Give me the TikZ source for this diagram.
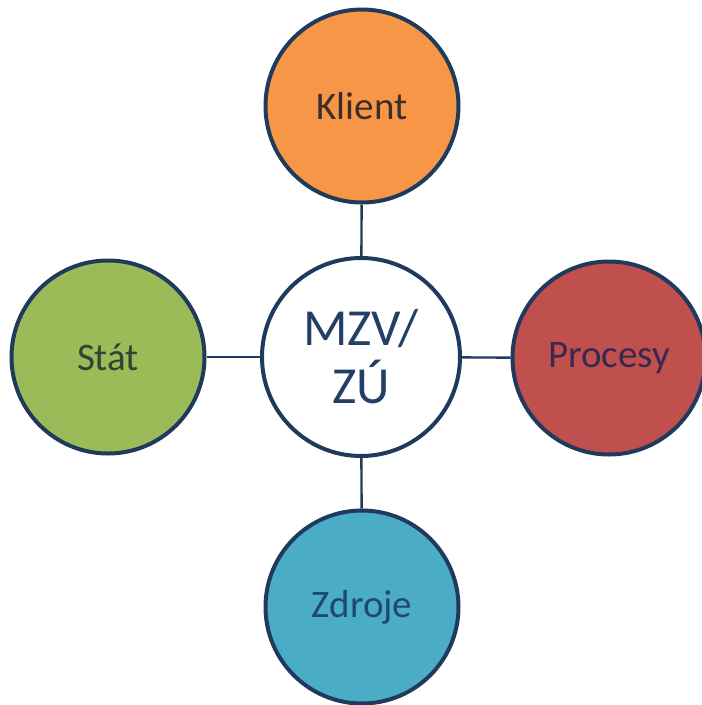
\documentclass[tikz,border=0pt]{standalone}
\usepackage{fontspec}
\setmainfont{Carlito}
\definecolor{edge}{HTML}{203A5E}
\definecolor{orangef}{HTML}{F79646}
\definecolor{greenf}{HTML}{9BBB59}
\definecolor{redf}{HTML}{C0504D}
\definecolor{bluef}{HTML}{4BACC6}
\definecolor{txtO}{HTML}{3B2E2A}
\definecolor{txtG}{HTML}{2D4436}
\definecolor{txtR}{HTML}{3A2850}
\definecolor{txtB}{HTML}{1E4A6E}
\definecolor{txtC}{HTML}{243F66}
\tikzset{
  bubble/.style={circle, draw=edge, line width=4pt, minimum size=193pt, inner sep=0pt,
    font=\fontsize{39}{44}\selectfont},
  link/.style={draw=edge, line width=2.4pt}
}
\begin{document}
\begin{tikzpicture}[x=1pt,y=-1pt]
\useasboundingbox (0,0) rectangle (702,705);
\node[bubble, fill=white, text=txtC, minimum size=198pt, align=center,
  font=\fontsize{52}{58}\selectfont] (c) at (361,357) {MZV/\\ZÚ};
\node[bubble, fill=orangef, text=txtO] (k) at (362,106) {Klient};
\node[bubble, fill=greenf, text=txtG] (s) at (108,357) {Stát};
\node[bubble, fill=redf, text=txtR] (p) at (609,358) {Procesy};
\node[bubble, fill=bluef, text=txtB] (z) at (362,607) {Zdroje};
\draw[link] (c) -- (k);
\draw[link] (c) -- (s);
\draw[link] (c) -- (p);
\draw[link] (c) -- (z);
\end{tikzpicture}
\end{document}
